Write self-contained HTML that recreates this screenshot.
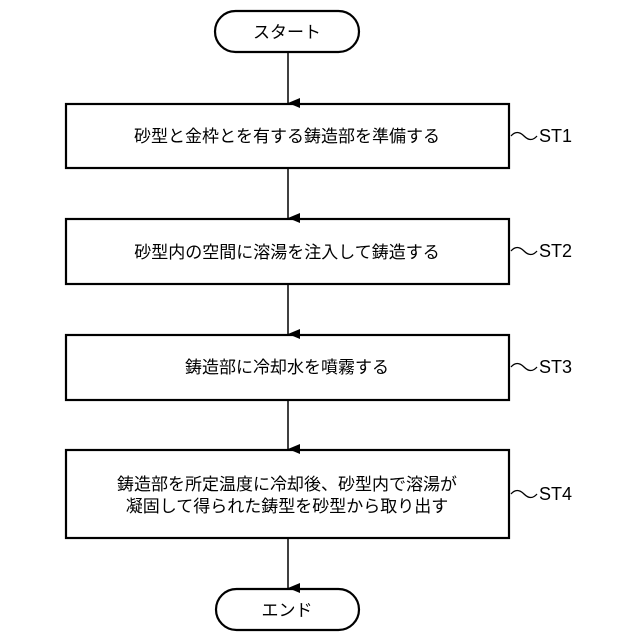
<!DOCTYPE html>
<html><head><meta charset="utf-8"><style>
body{margin:0;background:#fff}
</style></head><body>
<svg width="640" height="640" xmlns="http://www.w3.org/2000/svg" style="display:block">
<defs><marker id="a" markerWidth="10" markerHeight="12" refX="5" refY="12" orient="auto" markerUnits="userSpaceOnUse"><path d="M0,0 L5,12 L10,0" fill="#000" stroke="none"/></marker></defs>
<g fill="none" stroke="#000" stroke-width="2.2">
<rect x="215" y="11" width="144" height="41" rx="20.5"/>
<rect x="66" y="104" width="443" height="64"/>
<rect x="66" y="219" width="443" height="65"/>
<rect x="66" y="335" width="443" height="65"/>
<rect x="66" y="450" width="443" height="88"/>
<rect x="216" y="589" width="143" height="41" rx="20.5"/>
</g>
<g stroke="#000" stroke-width="1.5" marker-end="url(#a)">
<line x1="288" y1="52" x2="288" y2="103"/>
<line x1="288" y1="168" x2="288" y2="218"/>
<line x1="288" y1="284" x2="288" y2="334"/>
<line x1="288" y1="400" x2="288" y2="449"/>
<line x1="288" y1="538" x2="288" y2="588"/>
</g>
<g fill="none" stroke="#000" stroke-width="1.3">
<path d="M511,136 q6,-7 13,0 t13,0"/>
<path d="M511,251 q6,-7 13,0 t13,0"/>
<path d="M511,367 q6,-7 13,0 t13,0"/>
<path d="M511,494 q6,-7 13,0 t13,0"/>
</g>
<g font-family="'Liberation Sans','Noto Sans CJK JP',sans-serif" font-size="17" fill="#000" text-anchor="middle">
<text x="287" y="38">スタート</text>
<text x="287" y="142">砂型と金枠とを有する鋳造部を準備する</text>
<text x="287" y="258">砂型内の空間に溶湯を注入して鋳造する</text>
<text x="287" y="373">鋳造部に冷却水を噴霧する</text>
<text x="287" y="490">鋳造部を所定温度に冷却後、砂型内で溶湯が</text>
<text x="287" y="512">凝固して得られた鋳型を砂型から取り出す</text>
<text x="287" y="616">エンド</text>
</g>
<g font-family="'Liberation Sans',sans-serif" font-size="18" fill="#000">
<text x="539" y="142">ST1</text>
<text x="539" y="257">ST2</text>
<text x="539" y="373">ST3</text>
<text x="539" y="500">ST4</text>
</g>
</svg>
</body></html>
